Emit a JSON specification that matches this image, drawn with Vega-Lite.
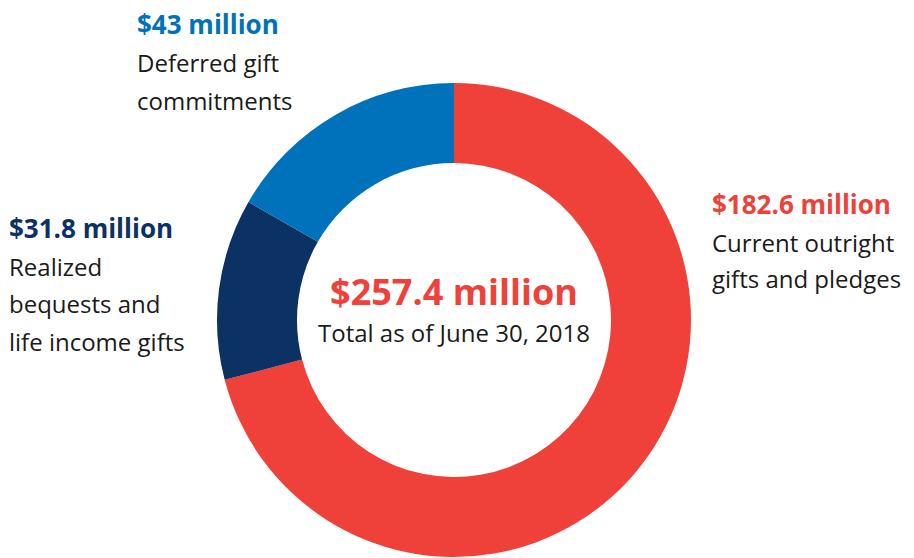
{
  "$schema": "https://vega.github.io/schema/vega-lite/v6.json",
  "width": 908,
  "height": 476,
  "autosize": {"type": "none"},
  "padding": {"left": 0, "right": 6, "top": 82, "bottom": 0},
  "background": "white",
  "config": {"view": {"stroke": null}, "text": {"font": "Open Sans"}},
  "data": {
    "values": [
      {"segment": "Current outright gifts and pledges", "value": 182.6, "order": 1, "amount": "$182.6 million", "description": "Current outright\ngifts and pledges"},
      {"segment": "Realized bequests and life income gifts", "value": 31.8, "order": 2, "amount": "$31.8 million", "description": "Realized\nbequests and\nlife income gifts"},
      {"segment": "Deferred gift commitments", "value": 43.0, "order": 3, "amount": "$43 million", "description": "Deferred gift\ncommitments"}
    ]
  },
  "layer": [
    {
      "mark": {"type": "arc", "outerRadius": 237, "innerRadius": 157},
      "encoding": {
        "theta": {"field": "value", "type": "quantitative", "stack": true},
        "order": {"field": "order", "type": "quantitative"},
        "color": {
          "field": "segment",
          "type": "nominal",
          "scale": {
            "domain": ["Current outright gifts and pledges", "Realized bequests and life income gifts", "Deferred gift commitments"],
            "range": ["#EF4139", "#0C3264", "#0072BB"]
          },
          "legend": null
        }
      }
    },
    {
      "transform": [{"filter": "datum.order == 1"}],
      "mark": {"type": "text", "align": "left", "baseline": "alphabetic", "fontSize": 26, "fontWeight": "bold", "color": "#EF4139", "dx": 258, "dy": -106},
      "encoding": {"text": {"field": "amount"}}
    },
    {
      "transform": [{"filter": "datum.order == 1"}],
      "mark": {"type": "text", "align": "left", "baseline": "alphabetic", "fontSize": 24, "color": "#1a1a1a", "lineBreak": "\n", "lineHeight": 36, "dx": 258, "dy": -68},
      "encoding": {"text": {"field": "description"}}
    },
    {
      "transform": [{"filter": "datum.order == 2"}],
      "mark": {"type": "text", "align": "left", "baseline": "alphabetic", "fontSize": 26, "fontWeight": "bold", "color": "#0C3264", "dx": -445, "dy": -82},
      "encoding": {"text": {"field": "amount"}}
    },
    {
      "transform": [{"filter": "datum.order == 2"}],
      "mark": {"type": "text", "align": "left", "baseline": "alphabetic", "fontSize": 24, "color": "#1a1a1a", "lineBreak": "\n", "lineHeight": 37.3, "dx": -445, "dy": -44},
      "encoding": {"text": {"field": "description"}}
    },
    {
      "transform": [{"filter": "datum.order == 3"}],
      "mark": {"type": "text", "align": "left", "baseline": "alphabetic", "fontSize": 26, "fontWeight": "bold", "color": "#0072BB", "dx": -317, "dy": -286},
      "encoding": {"text": {"field": "amount"}}
    },
    {
      "transform": [{"filter": "datum.order == 3"}],
      "mark": {"type": "text", "align": "left", "baseline": "alphabetic", "fontSize": 24, "color": "#1a1a1a", "lineBreak": "\n", "lineHeight": 37.5, "dx": -317, "dy": -248},
      "encoding": {"text": {"field": "description"}}
    },
    {
      "data": {"values": [{"title": "$257.4 million", "subtitle": "Total as of June 30, 2018"}]},
      "mark": {"type": "text", "align": "center", "baseline": "alphabetic", "fontSize": 36, "fontWeight": "bold", "color": "#EF4139", "dy": -15},
      "encoding": {"text": {"field": "title"}}
    },
    {
      "data": {"values": [{"title": "$257.4 million", "subtitle": "Total as of June 30, 2018"}]},
      "mark": {"type": "text", "align": "center", "baseline": "alphabetic", "fontSize": 24, "color": "#1a1a1a", "dy": 22},
      "encoding": {"text": {"field": "subtitle"}}
    }
  ]
}
